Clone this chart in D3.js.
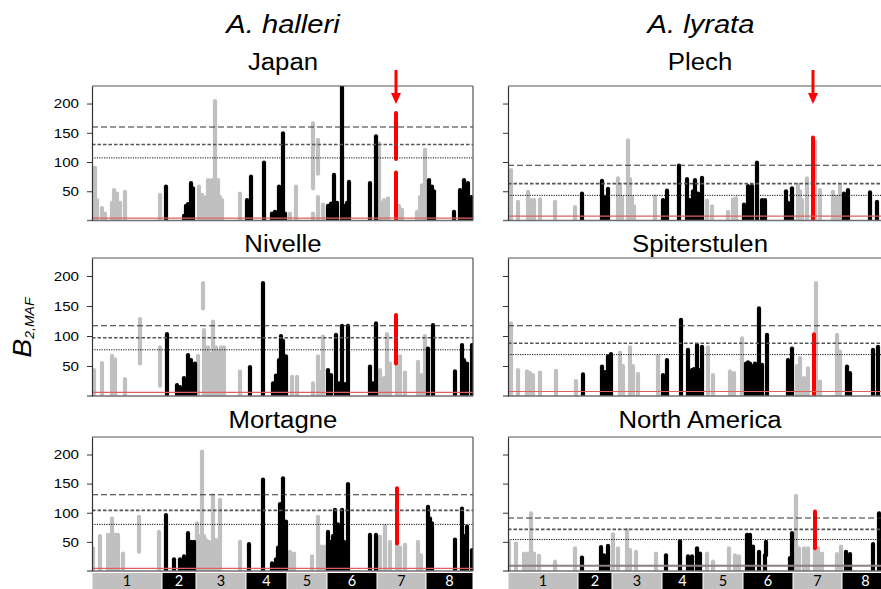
<!DOCTYPE html>
<html><head><meta charset="utf-8">
<script src="https://cdn.jsdelivr.net/npm/d3@7"></script>
<style>body{margin:0;background:#fff}svg{display:block}</style>
</head><body>
<svg id="chart" width="881" height="589"></svg>
<script>
// ---------- DATA ----------
const chromosomes = ["1","2","3","4","5","6","7","8"];
const chrLengths = [35, 17, 25, 20.5, 20, 25, 24.5, 23.5]; // Mb
const yTicks = [50, 100, 150, 200];
const speciesTitles = ["A. halleri", "A. lyrata"];
const panelTitles = ["Japan", "Nivelle", "Mortagne", "Plech", "Spiterstulen", "North America"];

// columns: [genome position (Mb), low B2,MAF, high B2,MAF]
const japanPeaks = [
[1.5,0,90],[2.5,0,35],[5,0,21],[6.5,0,12],[10,0,30],[11,0,52],[12,0,40],[12.5,0,46],[14,0,30],[16.5,0,49],[34,0,44],
[37,0,58],[46,0,8],[47,0,25],[48,0,28],[49.5,0,64],[50.5,0,55],
[53.5,0,58],[55,0,44],[57,0,40],[58,0,69],[59,0,60],[60,0,69],[61.5,0,204],[62.5,0,60],[63,0,69],[64,0,40],[65,0,35],[74,0,46],
[77.5,0,35],[79.5,0,75],[86,0,99],[90,0,12],[91.5,0,15],[93.5,0,58],[94.5,0,40],[95.5,0,149],[96.5,0,12],
[99,0,12],[102,0,58],[110.5,55,166],[110.5,0,12],[113,80,138],[113,0,40],[115.5,0,27],
[118,0,25],[119.5,0,29],[120.5,0,25],[121,0,78],[122.5,0,30],[125,0,230],[126.5,0,25],[127.5,0,30],[128.5,0,66],[139,0,64],[142,0,144],
[143.5,0,132],[145,0,30],[146,0,35],[148,0,38],[153.5,0,25],[155,0,18],[162.5,0,15],[164,0,40],[165,0,60],[166.5,0,121],
[168.5,0,69],[170,0,58],[171,0,50],[181,0,15],[184,0,52],[186,0,69],[187,0,55],[188,0,64],[189.5,0,40]
];
const japanRed = [[152,0,82],[152,105,184]];
const japanThresholds = [160, 130, 107];
const japanBaseline = 4;

const nivellePeaks = [
[1,0,43],[5,0,55],[10,0,67],[11.5,0,61],[16.5,0,28],[24,54,128],[34,17,81],
[37.5,0,103],[42.5,0,18],[44,0,15],[46,0,30],[48,0,68],[49.5,0,60],[50.5,0,50],[51.5,0,54],
[53,0,67],[55.5,146,188],[56,0,110],[57,0,60],[58,0,81],[59.5,0,70],[60.5,0,124],[62,0,81],[63,0,75],[64.5,0,81],[66,0,81],[74,0,41],
[79,0,48],[85.5,0,188],[90.5,0,21],[92,0,34],[93.5,0,60],[94.5,0,100],[95.5,0,92],[97,0,66],
[100,0,32],[102.5,0,32],[110.5,0,21],[113,0,66],[114.5,0,40],[115.5,0,99],
[118,0,43],[119.5,0,35],[122,0,102],[123.5,0,21],[125,0,117],[126.5,0,20],[128,0,117],[139,0,49],[140.5,0,21],[142,0,121],
[144,0,43],[146,0,30],[147.5,0,103],[149,0,54],[152.5,0,62],[154,0,66],[156.5,0,39],[163,0,57],[164.5,0,35],[166.5,0,100],
[168,0,79],[170.5,0,118],[181.5,0,41],[185,0,85],[186,0,60],[187.5,0,54],[190,0,85]
];
const nivelleRed = [[152,54,135]];
const nivelleThresholds = [117, 97, 77];
const nivelleBaseline = 6;

const mortagnePeaks = [
[0.5,0,39],[4,0,60],[8,0,62],[9,0,55],[10,0,90],[11.5,0,62],[13,0,62],[15.5,0,30],[23.5,33,93],[33.5,0,67],
[37,0,96],[41,0,20],[44,0,20],[46,0,25],[48,0,65],[49.5,0,50],[51,0,50],
[52.5,0,82],[54,0,60],[55,0,205],[56,0,60],[57,0,53],[58.5,0,50],[60.5,0,130],[62,0,53],[63,0,45],[64,0,122],[74,0,50],
[78.5,0,46],[85.5,0,157],[90,0,13],[92,0,20],[93,0,40],[94,0,115],[95.5,0,159],[96,0,47],[97,0,85],
[99,0,33],[101,0,30],[110,0,25],[113,0,93],[114.5,0,42],[116,0,42],
[118,0,67],[119.5,0,50],[120.5,0,60],[121.5,0,105],[123,0,80],[125,0,105],[126,0,50],[128,0,149],[139,0,62],[142,0,62],
[144,0,59],[146.5,0,77],[149,0,50],[152.5,0,50],[154,0,40],[156.5,0,45],[163,0,50],[164.5,0,27],
[168,0,110],[169,0,90],[170,0,82],[181.5,0,54],[185,0,107],[186,0,60],[187.5,0,76],[190,0,36]
];
const mortagneRed = [[152.5,47,142]];
const mortagneThresholds = [131, 104, 80];
const mortagneBaseline = 4.5;

const plechPeaks = [
[1.5,0,86],[5,0,32],[10,0,49],[11.5,0,35],[13,0,35],[16,0,36],[23.5,0,32],[33.5,0,23],
[37,0,46],[47,0,68],[48,0,24],[49,0,40],[50,0,54],
[55,0,72],[56,0,60],[57,0,40],[60,0,137],[61,0,71],[62,0,40],[63,0,24],[73.5,0,41],
[77.5,0,35],[79.5,0,51],[85.5,0,94],[89.5,0,71],[91,0,35],[92.5,0,50],[93.5,0,69],[95,0,46],[97,0,73],
[99.5,0,34],[102,0,24],[110,0,15],[112.5,0,36],[114,0,38],
[118,0,27],[120,0,59],[121,0,55],[122,0,59],[124.5,0,99],[127,0,35],[128.5,0,35],[139,0,50],[140,0,30],[142,0,55],
[145,0,61],[146,0,50],[147,0,35],[149.5,0,72],[153.5,0,135],[156,0,52],[162.5,0,49],[164,0,40],[166,0,61],
[168,0,46],[170,0,52],[181,0,48],[184.5,0,32]
];
const plechRed = [[152.5,0,142]];
const plechThresholds = [94.5, 63, 43];
const plechBaseline = 7.5;

const spiterstulenPeaks = [
[1.5,0,121],[5,0,43],[9.5,0,41],[11,0,38],[12.5,0,35],[16,0,39],[24,0,42],[34,0,25],
[37.5,0,36],[47,0,49],[48.5,0,40],[50,0,66],[51.5,0,70],
[56,0,72],[57.5,0,50],[61,0,81],[62.5,0,50],[65,0,37],[75,0,66],
[77.5,0,35],[79.5,0,60],[86.5,0,127],[90,0,77],[91,0,40],[92,0,43],[93,0,45],[94.5,0,85],[96,0,43],[97,0,82],
[100,0,81],[102.5,0,35],[111,0,41],[113,0,38],[117,0,96],
[119,0,54],[120,0,56],[121,0,54],[122.5,0,50],[123.5,0,54],[125.5,0,146],[127,0,52],[129.5,0,102],[140,0,60],[142,0,79],
[144.5,0,50],[146,0,63],[148,0,30],[150,0,46],[154,0,188],[156,0,24],[164.5,0,102],[166,0,74],
[169.5,0,49],[171,0,38],[182.5,0,77],[185,0,82]
];
const spiterstulenRed = [[153,0,103]];
const spiterstulenThresholds = [117, 88, 69];
const spiterstulenBaseline = 7.5;

const northAmericaPeaks = [
[0.5,0,50],[4,0,47],[8,0,30],[10,0,30],[11.5,0,99],[13,0,30],[15.5,0,26],[23.5,0,16],[33.5,0,39],
[37,0,23],[46.5,0,41],[48,0,27],[50,0,43],
[52.5,0,63],[55,0,39],[59.5,0,70],[61,0,36],[64,0,33],[74,0,30],
[79,0,27],[86,0,51],[90,0,25],[92,0,25],[94.5,0,39],[96,0,30],
[99.5,0,30],[102.5,0,16],[110.5,0,39],[113.5,0,27],[115.5,0,25],
[119.5,0,62],[121,0,62],[122.5,0,42],[125.5,0,33],[128.5,0,27],[129,27,50],[141,0,22],[142,0,65],
[144,0,129],[145.5,0,39],[148,0,39],[150,0,39],[153.5,0,40],[155,0,39],[157,0,30],[164.5,0,29],[166.5,0,42],
[169,0,33],[171,0,29],[182.5,0,46],[185.5,0,99]
];
const northAmericaRed = [[153.5,39,102]];
const northAmericaThresholds = [91, 71.5, 54];
const northAmericaBaseline = 9;

// ---------- LAYOUT ----------
const svg = d3.select("#chart");
const W = 381;
const colX = [92, 508];
const rowTop = [86, 258, 437], rowBottom = [220.5, 396, 571], titleY = [70, 252, 428];
const GRAY = "#c0c0c0", BLACK = "#000", RED = "#ff0000";
const chrStarts = Array.from(d3.cumsum([0, ...chrLengths]));
const genomeLength = d3.sum(chrLengths);
const chrOf = p => Math.min(chromosomes.length - 1, d3.bisectRight(chrStarts, p) - 1);

const panels = [
  {title: panelTitles[0], col:0, row:0, peaks:japanPeaks, red:japanRed, thr:japanThresholds, base:japanBaseline, arrow:true},
  {title: panelTitles[1], col:0, row:1, peaks:nivellePeaks, red:nivelleRed, thr:nivelleThresholds, base:nivelleBaseline},
  {title: panelTitles[2], col:0, row:2, peaks:mortagnePeaks, red:mortagneRed, thr:mortagneThresholds, base:mortagneBaseline, chrBar:true},
  {title: panelTitles[3], col:1, row:0, peaks:plechPeaks, red:plechRed, thr:plechThresholds, base:plechBaseline, arrow:true},
  {title: panelTitles[4], col:1, row:1, peaks:spiterstulenPeaks, red:spiterstulenRed, thr:spiterstulenThresholds, base:spiterstulenBaseline},
  {title: panelTitles[5], col:1, row:2, peaks:northAmericaPeaks, red:northAmericaRed, thr:northAmericaThresholds, base:northAmericaBaseline, chrBar:true, baseColor:"#8e7e7e", baseWidth:2}
];
const thrStyles = [
  {dash:"6,3", color:"#333", w:1.1},
  {dash:"3.5,2", color:"#555", w:1.6},
  {dash:"1.2,1.2", color:"#111", w:1}
];

const defs = svg.append("defs");

[283, 701].forEach((cx, i) => {
  svg.append("text").attr("class","stretch").attr("x", cx).attr("y", 33)
    .attr("text-anchor","middle").attr("font-family","Liberation Sans, Arial, sans-serif")
    .attr("font-style","italic").attr("font-size", 26).text(speciesTitles[i]);
});

panels.forEach((p, pi) => {
  const x0 = colX[p.col], yt = rowTop[p.row], yb = rowBottom[p.row];
  const x = d3.scaleLinear().domain([0, genomeLength]).range([x0, x0 + W]);
  const y = d3.scaleLinear().domain([0, 230]).range([yb, yt]);
  const g = svg.append("g");

  svg.append("text").attr("class","stretch").attr("x", p.col === 0 ? 283 : 700).attr("y", titleY[p.row])
    .attr("text-anchor","middle").attr("font-family","Liberation Sans, Arial, sans-serif")
    .attr("font-size", 23).text(p.title);

  defs.append("clipPath").attr("id","clip"+pi).append("rect")
    .attr("x", x0).attr("y", yt).attr("width", W).attr("height", yb - yt);
  const plot = g.append("g").attr("clip-path", `url(#clip${pi})`);

  const sorted = p.peaks.slice().sort((a,b) => (chrOf(a[0])%2) - (chrOf(b[0])%2));
  plot.selectAll("line.col").data(sorted).join("line").attr("class","col")
    .attr("x1", d => x(d[0])).attr("x2", d => x(d[0]))
    .attr("y1", d => y(d[1])).attr("y2", d => y(d[2]))
    .attr("stroke", d => chrOf(d[0]) % 2 === 0 ? GRAY : BLACK)
    .attr("stroke-width", 4.2).attr("stroke-linecap","round");
  plot.selectAll("line.red").data(p.red).join("line").attr("class","red")
    .attr("x1", d => x(d[0])).attr("x2", d => x(d[0]))
    .attr("y1", d => y(d[1])).attr("y2", d => y(d[2]))
    .attr("stroke", RED).attr("stroke-width", 4).attr("stroke-linecap","round");

  g.selectAll("line.thr").data(p.thr).join("line").attr("class","thr")
    .attr("x1", x0).attr("x2", x0 + W).attr("y1", d => y(d)).attr("y2", d => y(d))
    .attr("stroke", (d,i) => thrStyles[i].color).attr("stroke-width", (d,i) => thrStyles[i].w)
    .attr("stroke-dasharray", (d,i) => thrStyles[i].dash);

  g.append("line").attr("x1", x0).attr("x2", x0 + W).attr("y1", y(p.base)).attr("y2", y(p.base))
    .attr("stroke", p.baseColor || "#e06060").attr("stroke-width", p.baseWidth || 1.2);
  g.append("line").attr("x1", x0 - 5).attr("x2", x0 + W).attr("y1", y(0)).attr("y2", y(0))
    .attr("stroke", "#707070").attr("stroke-width", 1.5);
  g.append("line").attr("x1", x0).attr("x2", x0 + W).attr("y1", yt).attr("y2", yt)
    .attr("stroke", "#555").attr("stroke-width", 1.2);
  g.append("line").attr("x1", x0 + W).attr("x2", x0 + W).attr("y1", yt).attr("y2", yb)
    .attr("stroke", "#555").attr("stroke-width", 1.2);

  const ax = d3.axisLeft(y).tickValues(yTicks).tickSize(5).tickSizeOuter(0)
    .tickFormat(p.col === 0 ? d3.format("d") : () => "");
  const axg = g.append("g").attr("transform", `translate(${x0},0)`).call(ax);
  axg.select(".domain").attr("stroke", "#333").attr("stroke-width", 1.2);
  axg.selectAll(".tick line").attr("stroke", "#333");
  axg.selectAll(".tick text").attr("class","stretch").attr("x", -13)
    .attr("font-family","Liberation Sans, Arial, sans-serif").attr("font-size", 13.5).attr("fill","#000");

  if (p.arrow) {
    const xa = x(p.red[0][0]);
    svg.append("line").attr("x1", xa).attr("x2", xa).attr("y1", 70).attr("y2", 95)
      .attr("stroke", RED).attr("stroke-width", 3);
    svg.append("path").attr("d", `M${xa-5},93L${xa+5},93L${xa},104Z`).attr("fill", RED);
  }

  if (p.chrBar) {
    const cb = svg.append("g");
    cb.selectAll("rect").data(chromosomes).join("rect")
      .attr("x", (d,i) => x(chrStarts[i]) + 0.5).attr("y", 573)
      .attr("width", (d,i) => x(chrStarts[i+1]) - x(chrStarts[i]) - 1).attr("height", 17)
      .attr("fill", (d,i) => i % 2 === 0 ? GRAY : BLACK);
    cb.selectAll("text").data(chromosomes).join("text")
      .attr("x", (d,i) => (x(chrStarts[i]) + x(chrStarts[i+1])) / 2).attr("y", 585.5)
      .attr("text-anchor","middle").attr("font-family","Lato, Open Sans, sans-serif").attr("font-size", 14.5)
      .attr("fill", (d,i) => i % 2 === 0 ? "#000" : "#fff").text(d => d);
  }
});

const yl = svg.append("text").attr("transform","translate(31,327.5) rotate(-90)")
  .attr("text-anchor","middle").attr("font-family","Liberation Sans, Arial, sans-serif").attr("font-style","italic");
yl.append("tspan").attr("font-size", 26).text("B");
yl.append("tspan").attr("font-size", 13).attr("dy", 3).text("2,MAF");
yl.attr("textLength", 60).attr("lengthAdjust","spacingAndGlyphs");

svg.selectAll("text.stretch").each(function(){
  const w = this.getComputedTextLength();
  d3.select(this).attr("textLength", w * 1.12).attr("lengthAdjust","spacingAndGlyphs");
});
</script>
</body></html>
